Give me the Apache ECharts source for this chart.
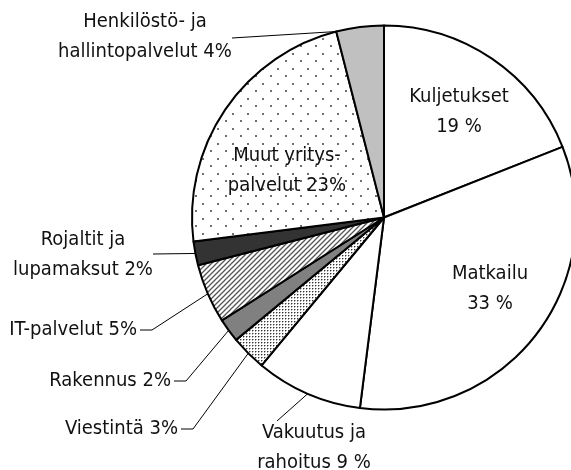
<!DOCTYPE html>
<html>
<head>
<meta charset="utf-8">
<script src="https://cdn.jsdelivr.net/npm/echarts@6/dist/echarts.min.js"></script>
<style>
html, body { margin: 0; padding: 0; background: #fff; }
#chart { width: 571px; height: 470px; }
</style>
</head>
<body>
<div id="chart"></div>
<script>
// sectors clockwise from 12 o'clock
const sectors = ['Kuljetukset', 'Matkailu', 'Vakuutus ja rahoitus', 'Viestintä', 'Rakennus',
  'IT-palvelut', 'Rojaltit ja lupamaksut', 'Muut yrityspalvelut', 'Henkilöstö- ja hallintopalvelut']
const shares = [19, 33, 9, 3, 2, 5, 2, 23, 4]
const labelTexts = ['Kuljetukset\n19 %', 'Matkailu\n33 %', 'Vakuutus ja\nrahoitus 9 %', 'Viestintä 3%',
  'Rakennus 2%', 'IT-palvelut 5%', 'Rojaltit ja\nlupamaksut 2%', 'Muut yritys-\npalvelut 23%',
  'Henkilöstö- ja\nhallintopalvelut 4%']

const CENTER = [384, 217.5]
const RADIUS = 192

const makeTile = (size, draw) => {
  const c = document.createElement('canvas')
  c.width = size
  c.height = size
  const ctx = c.getContext('2d')
  ctx.fillStyle = '#fff'
  ctx.fillRect(0, 0, size, size)
  draw(ctx, size)
  return { image: c, repeat: 'repeat' }
}

const sparseDots = makeTile(15, (ctx) => {
  ctx.fillStyle = '#6f6f6f'
  ctx.fillRect(0, 0, 2, 2)
  ctx.fillRect(7, 8, 2, 2)
})

const denseDots = makeTile(3, (ctx) => {
  ctx.fillStyle = '#333'
  ctx.fillRect(0, 0, 1, 1)
  ctx.fillStyle = '#aaa'
  ctx.fillRect(1, 0, 1, 1)
  ctx.fillRect(0, 1, 1, 1)
})

const hatch = makeTile(5, (ctx, s) => {
  ctx.strokeStyle = '#555'
  ctx.lineWidth = 1.3
  ctx.beginPath()
  ctx.moveTo(-1, s + 1); ctx.lineTo(s + 1, -1)
  ctx.moveTo(-1, 1); ctx.lineTo(1, -1)
  ctx.moveTo(s - 1, s + 1); ctx.lineTo(s + 1, s - 1)
  ctx.stroke()
})

const fills = ['#fff', '#fff', '#fff', denseDots, '#808080', hatch, '#333', sparseDots, '#c0c0c0']

// where each label sits; outside labels get their leader line routed to it
const labelPlace = [
  { x: 459, y: 112, align: 'center' },
  { x: 490, y: 289, align: 'center' },
  { x: 314, y: 448, align: 'center', end: [277, 421] },
  { x: 178, y: 429, align: 'right' },
  { x: 171, y: 381, align: 'right' },
  { x: 137, y: 330, align: 'right' },
  { x: 83, y: 255, align: 'center', end: [153, 254] },
  { x: 287, y: 171, align: 'center' },
  { x: 145, y: 37, align: 'center', end: [232, 38], fromSliceStart: true }
]
const insideIdx = [0, 1, 7]

const total = shares.reduce((a, b) => a + b, 0)
// point on the rim where a slice begins (clockwise from the top)
const sliceStartPoint = (i) => {
  const before = shares.slice(0, i).reduce((a, b) => a + b, 0)
  const ang = before / total * Math.PI * 2
  return [CENTER[0] + RADIUS * Math.sin(ang), CENTER[1] - RADIUS * Math.cos(ang)]
}

const chart = echarts.init(document.getElementById('chart'))
chart.setOption({
  animation: false,
  backgroundColor: '#fff',
  series: [
    {
      type: 'pie',
      center: CENTER,
      radius: RADIUS,
      startAngle: 90,
      clockwise: true,
      avoidLabelOverlap: false,
      itemStyle: {
        borderColor: '#000',
        borderWidth: 2
      },
      label: {
        show: true,
        position: 'outside',
        formatter: (p) => labelTexts[p.dataIndex],
        fontFamily: "'DejaVu Sans Condensed', 'DejaVu Sans', sans-serif",
        fontSize: 20,
        lineHeight: 30,
        color: '#111'
      },
      labelLine: {
        show: true,
        lineStyle: { color: '#000', width: 1 }
      },
      labelLayout: (params) => {
        const p = labelPlace[params.dataIndex]
        const out = { x: p.x, y: p.y, align: p.align, verticalAlign: 'middle' }
        let start = params.labelLinePoints && params.labelLinePoints[0]
        if (start) {
          if (p.fromSliceStart) start = sliceStartPoint(params.dataIndex)
          if (p.align === 'right') {
            out.labelLinePoints = [start, [p.x + 15, p.y], [p.x + 3, p.y]]
          } else if (p.end) {
            out.labelLinePoints = [start, p.end, p.end]
          }
        }
        return out
      },
      data: sectors.map((name, i) => ({
        name,
        value: shares[i],
        itemStyle: { color: fills[i] },
        labelLine: { show: !insideIdx.includes(i) }
      }))
    }
  ]
})
</script>
</body>
</html>
